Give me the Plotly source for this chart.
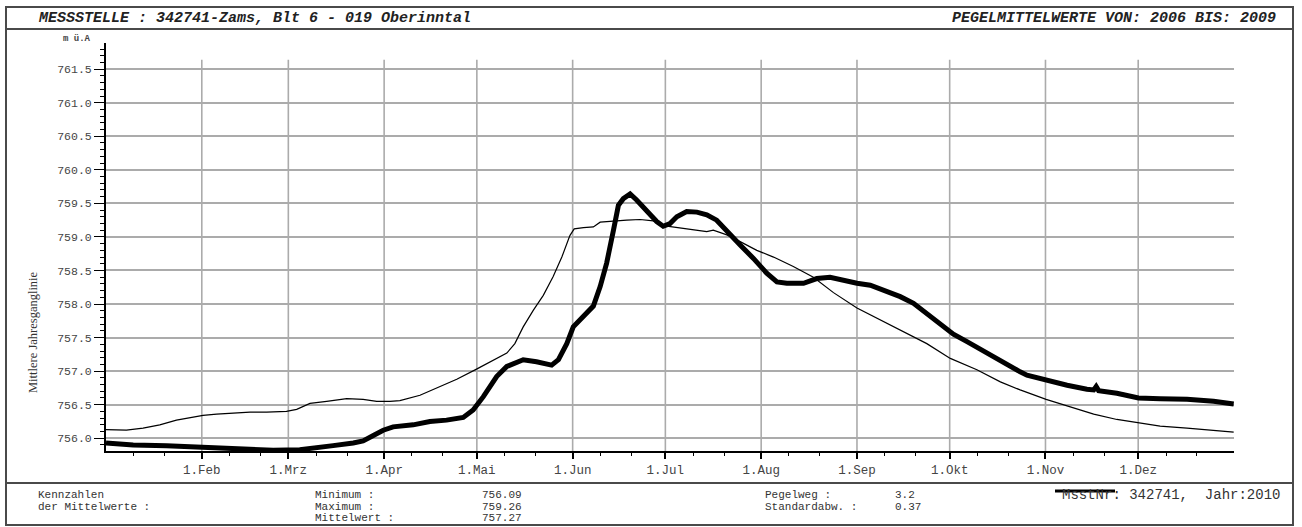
import pandas as pd
import plotly.graph_objects as go

# ---- data -----------------------------------------------------------------
# day offsets from 1 Jan 2010 and water levels (m ü.A)
mean_days = [0, 6.6, 12, 17.4, 22.8, 28.2, 31.4, 35.8, 41.1, 46.6, 52, 58.4,
             61.7, 66, 71.4, 77.9, 83.2, 87.6, 91.9, 95.1, 101.6, 108, 113.5,
             119.9, 124.2, 129.7, 132.3, 135, 138.3, 141.5, 144.7, 147.5, 150.1,
             151.5, 154.5, 157.7, 159.9, 164.2, 168.5, 172.8, 177.1, 181.5,
             185.8, 190.1, 194.4, 196.5, 200.9, 205.2, 210.6, 216, 222.4, 228.9,
             235.4, 243, 249.4, 257, 265.6, 273.2, 281.8, 289.4, 295.8, 304.2,
             311, 319.6, 327.1, 334.1, 341.1, 349.8, 358.4, 364.9]
mean_levels = [756.13, 756.12, 756.15, 756.20, 756.27, 756.32, 756.34, 756.36,
               756.38, 756.39, 756.39, 756.40, 756.43, 756.52, 756.55, 756.59,
               756.58, 756.55, 756.55, 756.56, 756.64, 756.77, 756.88, 757.03,
               757.14, 757.27, 757.41, 757.66, 757.91, 758.13, 758.41, 758.70,
               759.02, 759.12, 759.14, 759.15, 759.22, 759.24, 759.25, 759.26,
               759.24, 759.16, 759.13, 759.10, 759.08, 759.10, 759.03, 758.93,
               758.80, 758.70, 758.56, 758.40, 758.17, 757.94, 757.79, 757.61,
               757.41, 757.19, 757.02, 756.84, 756.72, 756.58, 756.48, 756.36,
               756.28, 756.23, 756.18, 756.15, 756.11, 756.09]

year_days = [0, 8.8, 19.6, 30.4, 39, 46.6, 54.1, 62.7, 67, 73.5, 80, 83.2, 86.5,
             89.7, 92.9, 99.4, 104.8, 110.2, 115.6, 118.8, 122.1, 126.4, 129.7,
             135, 139.3, 144.2, 146.4, 149.1, 151.2, 154.5, 157.7, 159.9, 162,
             164.2, 165.8, 167.4, 169.6, 171.7, 175, 178.2, 180.3, 182.5, 184.7,
             187.9, 191.2, 194.4, 197.6, 200.9, 205.2, 209.5, 213.8, 217.1,
             220.3, 225.7, 230, 234.3, 237.5, 243, 247.3, 251.6, 257, 261.3,
             265.6, 269.9, 274.2, 278.6, 285, 290.4, 295.8, 298, 303.4, 311,
             317.4, 319.6, 320.4, 321.2, 327.1, 334.1, 341.1, 349.8, 358.4, 364.9]
year_levels = [755.93, 755.90, 755.89, 755.87, 755.84, 755.83, 755.82, 755.83,
               755.85, 755.89, 755.93, 755.96, 756.04, 756.12, 756.17, 756.20,
               756.25, 756.27, 756.31, 756.42, 756.62, 756.92, 757.07, 757.17,
               757.14, 757.09, 757.17, 757.41, 757.66, 757.81, 757.97, 758.26,
               758.61, 759.10, 759.47, 759.57, 759.64, 759.55, 759.38, 759.23,
               759.16, 759.20, 759.30, 759.38, 759.37, 759.33, 759.25, 759.10,
               758.88, 758.68, 758.46, 758.33, 758.31, 758.31, 758.38, 758.40,
               758.36, 758.31, 758.28, 758.21, 758.11, 758.01, 757.86, 757.69,
               757.55, 757.44, 757.27, 757.12, 756.99, 756.94, 756.87, 756.79,
               756.73, 756.72, 756.77, 756.71, 756.67, 756.60, 756.59, 756.58,
               756.55, 756.51]

month_ticks = ["2010-02-01", "2010-03-01", "2010-04-01", "2010-05-01",
               "2010-06-01", "2010-07-01", "2010-08-01", "2010-09-01",
               "2010-10-01", "2010-11-01", "2010-12-01"]
month_labels = ["1.Feb", "1.Mrz", "1.Apr", "1.Mai", "1.Jun", "1.Jul",
                "1.Aug", "1.Sep", "1.Okt", "1.Nov", "1.Dez"]
decade_ticks = [f"2010-{m:02d}-{d:02d}" for m in range(1, 13) for d in (10, 20)]

stat_names = ["Minimum :", "Maximum :", "Mittelwert :"]
stat_values = ["756.09", "759.26", "757.27"]
spread_names = ["Pegelweg :", "Standardabw. :"]
spread_values = ["3.2", "0.37"]

# ---- helpers ----------------------------------------------------------------
start = pd.Timestamp("2010-01-01")


def to_dates(days):
    return [start + pd.Timedelta(days=float(d)) for d in days]


W, H = 1302, 527
L, R, T, B = 106, 1234, 43, 451
Y_LO, Y_HI = 755.81, 761.89


def px(x):
    return (x - L) / (R - L)


def py(y):
    return (B - y) / (B - T)


MONO = "Liberation Mono"
TXT = "#333333"
FRAME = "#4a4a4a"
GRID = "#ababab"

fig = go.Figure()

fig.add_trace(go.Scatter(
    x=to_dates(mean_days), y=mean_levels, mode="lines",
    line=dict(color="black", width=1.2), name="Mittel 2006-2009",
    showlegend=False, hoverinfo="skip"))
fig.add_trace(go.Scatter(
    x=to_dates(year_days), y=year_levels, mode="lines",
    line=dict(color="black", width=5), name="2010",
    showlegend=False, hoverinfo="skip"))

shapes = []
# vertical month grid lines
for t in month_ticks:
    shapes.append(dict(type="line", xref="x", yref="y", x0=t, x1=t,
                       y0=Y_LO, y1=761.64, layer="below",
                       line=dict(color=GRID, width=1.6)))

# page frame, header and footer separators
shapes += [
    dict(type="rect", xref="paper", yref="paper",
         x0=px(6), x1=px(1293), y0=py(7), y1=py(525),
         line=dict(color=FRAME, width=2)),
    dict(type="line", xref="paper", yref="paper",
         x0=px(6), x1=px(1293), y0=py(29), y1=py(29),
         line=dict(color=FRAME, width=2)),
    dict(type="line", xref="paper", yref="paper",
         x0=px(6), x1=px(1293), y0=py(483), y1=py(483),
         line=dict(color=FRAME, width=2)),
    # legend swatch for the current-year line
    dict(type="line", xref="paper", yref="paper",
         x0=px(1055), x1=px(1115), y0=py(491), y1=py(491),
         line=dict(color="black", width=3)),
]

annotations = []


def note(text, x, y, size=12, anchor="left", bold=False, italic=False,
         family=MONO, color=TXT, angle=0):
    t = text
    if bold:
        t = f"<b>{t}</b>"
    if italic:
        t = f"<i>{t}</i>"
    annotations.append(dict(
        text=t, x=px(x), y=py(y), xref="paper", yref="paper",
        xanchor=anchor, yanchor="middle", showarrow=False, textangle=angle,
        font=dict(family=family, size=size, color=color)))


note("MESSSTELLE : 342741-Zams, Blt 6 - 019 Oberinntal", 36, 19,
     size=15, bold=True, italic=True, color="#222222")
note("PEGELMITTELWERTE VON: 2006 BIS: 2009", 1278, 19, size=15,
     anchor="right", bold=True, italic=True, color="#222222")
note("m ü.A", 77, 39, size=9, anchor="center", bold=True, color="#444444")
note("Mittlere Jahresganglinie", 33, 332, size=12.5, anchor="center",
     family="Liberation Serif", color="#333333", angle=-90)

FS = 11
ROWS = [495, 506.5, 518]
note("Kennzahlen", 36, ROWS[0], size=FS)
note("der Mittelwerte :", 36, ROWS[1], size=FS)
for i, (n, v) in enumerate(zip(stat_names, stat_values)):
    note(n, 313, ROWS[i], size=FS)
    note(v, 480, ROWS[i], size=FS)
for i, (n, v) in enumerate(zip(spread_names, spread_values)):
    note(n, 763, ROWS[i], size=FS)
    note(v, 893, ROWS[i], size=FS)
note("MsstNr: 342741,  Jahr:2010", 1060, 495, size=14)

fig.update_layout(
    width=W, height=H, autosize=False,
    margin=dict(l=L, r=W - R, t=T, b=H - B, pad=0),
    paper_bgcolor="white", plot_bgcolor="white",
    shapes=shapes, annotations=annotations,
    showlegend=False,
    xaxis=dict(
        type="date", range=["2010-01-01", "2011-01-01"],
        tickmode="array", tickvals=month_ticks, ticktext=month_labels,
        ticks="outside", ticklen=6, tickwidth=1.5, tickcolor="black",
        showline=True, linecolor="black", linewidth=1.5,
        showgrid=False, zeroline=False,
        tickfont=dict(family=MONO, size=12.5, color="#444444"),
        minor=dict(tickmode="array", tickvals=decade_ticks, ticks="outside",
                   ticklen=3, tickwidth=1.2, tickcolor="black",
                   showgrid=False),
    ),
    yaxis=dict(
        range=[Y_LO, Y_HI], tickmode="linear", tick0=756.0, dtick=0.5,
        tickformat=".1f", ticks="outside", ticklen=10, tickwidth=1.2,
        tickcolor="black", showline=True, linecolor="black", linewidth=2,
        showgrid=True, gridcolor=GRID, gridwidth=1.6, zeroline=False,
        tickfont=dict(family=MONO, size=11.5, color="#444444"),
        minor=dict(dtick=0.1, tick0=756.0, ticks="outside", ticklen=4,
                   tickwidth=1, tickcolor="black", showgrid=False),
    ),
)

fig.write_html("out.html")
